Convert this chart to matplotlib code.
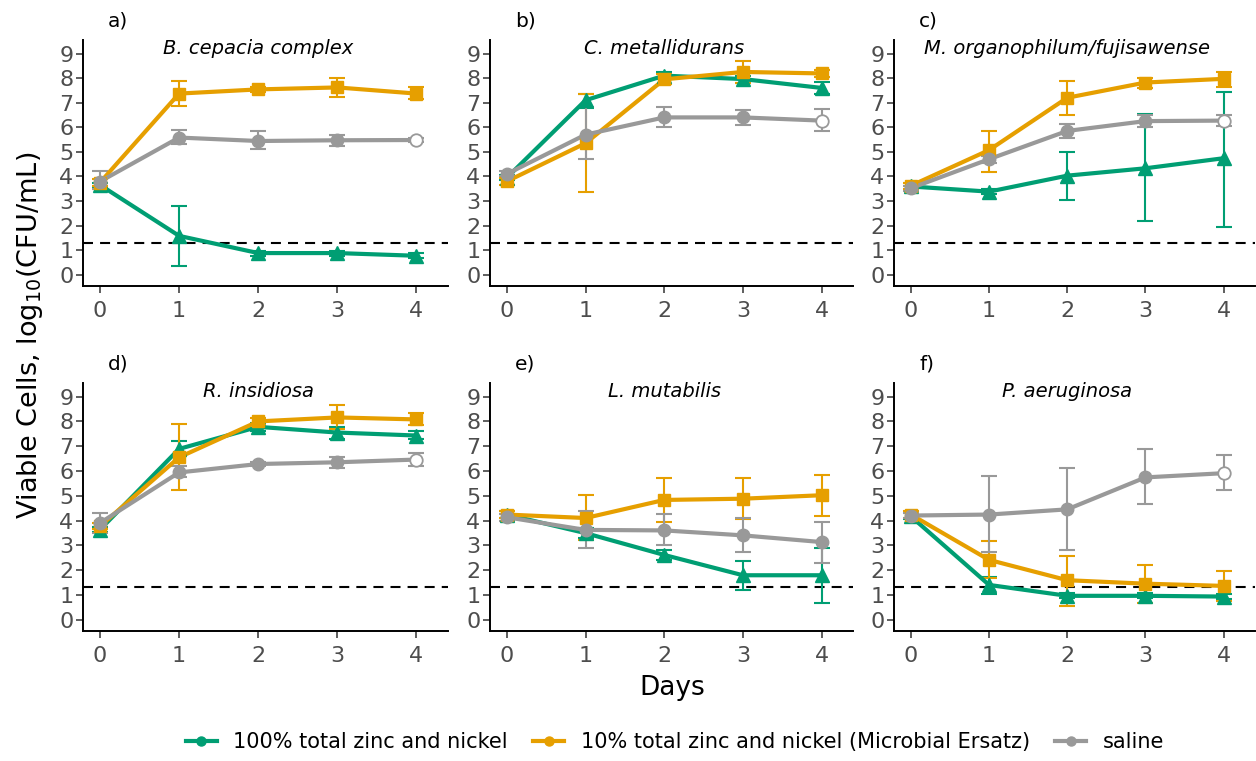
import matplotlib
matplotlib.use("Agg")
import matplotlib.pyplot as plt
from matplotlib.lines import Line2D

plt.rcParams['font.family'] = ['DejaVu Sans']
plt.rcParams['mathtext.fontset'] = 'dejavusans'

days = [0, 1, 2, 3, 4]
panel_labels = ["a)", "b)", "c)", "d)", "e)", "f)"]
titles = ["B. cepacia complex", "C. metallidurans", "M. organophilum/fujisawense",
          "R. insidiosa", "L. mutabilis", "P. aeruginosa"]
series_names = ["100% total zinc and nickel",
                "10% total zinc and nickel (Microbial Ersatz)", "saline"]
lod = 1.3

# means per panel (a..f)
zn100 = [[3.65, 1.58, 0.88, 0.88, 0.77],
         [3.95, 7.10, 8.10, 7.96, 7.60],
         [3.59, 3.38, 4.03, 4.33, 4.74],
         [3.63, 6.89, 7.78, 7.55, 7.43],
         [4.24, 3.49, 2.61, 1.79, 1.79],
         [4.17, 1.40, 0.96, 0.96, 0.93]]
zn100_lo = [[3.55, 0.34, 0.78, 0.78, 0.67],
            [3.85, 6.80, 7.95, 7.80, 7.35],
            [3.45, 3.28, 3.02, 2.17, 1.94],
            [3.53, 6.62, 7.60, 7.30, 7.30],
            [4.10, 3.30, 2.41, 1.18, 0.68],
            [4.05, 1.05, 0.86, 0.86, 0.83]]
zn100_hi = [[3.75, 2.80, 0.98, 0.98, 0.87],
            [4.05, 7.37, 8.25, 8.10, 7.85],
            [3.75, 3.48, 5.01, 6.52, 7.42],
            [3.73, 7.19, 7.95, 7.78, 7.60],
            [4.38, 3.70, 2.81, 2.37, 2.88],
            [4.30, 1.73, 1.06, 1.06, 1.03]]

zn10 = [[3.75, 7.37, 7.54, 7.62, 7.37],
        [3.80, 5.35, 7.95, 8.25, 8.19],
        [3.62, 5.07, 7.20, 7.82, 7.97],
        [3.77, 6.55, 8.00, 8.16, 8.08],
        [4.24, 4.10, 4.83, 4.88, 5.02],
        [4.24, 2.41, 1.59, 1.45, 1.36]]
zn10_lo = [[3.60, 6.86, 7.44, 7.24, 7.14],
           [3.65, 3.38, 7.75, 7.80, 8.05],
           [3.50, 4.19, 6.50, 7.58, 7.62],
           [3.65, 5.22, 7.85, 7.71, 7.84],
           [4.10, 3.22, 3.94, 4.08, 4.20],
           [4.10, 1.66, 0.54, 0.67, 0.75]]
zn10_hi = [[3.90, 7.88, 7.64, 8.00, 7.62],
           [3.95, 7.37, 8.15, 8.69, 8.33],
           [3.75, 5.86, 7.88, 8.02, 8.25],
           [3.90, 7.91, 8.15, 8.66, 8.32],
           [4.38, 5.02, 5.70, 5.70, 5.83],
           [4.38, 3.19, 2.57, 2.20, 1.97]]

saline = [[3.79, 5.58, 5.44, 5.47, 5.48],
          [4.10, 5.70, 6.40, 6.40, 6.27],
          [3.52, 4.70, 5.85, 6.25, 6.27],
          [3.90, 5.94, 6.28, 6.35, 6.46],
          [4.13, 3.62, 3.60, 3.40, 3.13],
          [4.20, 4.24, 4.45, 5.74, 5.91]]
saline_lo = [[3.50, 5.32, 5.10, 5.25, 5.40],
             [4.00, 4.71, 6.02, 6.09, 5.86],
             [3.42, 4.55, 5.55, 6.02, 6.06],
             [3.49, 5.74, 6.18, 6.10, 6.19],
             [4.00, 2.88, 3.02, 2.71, 2.30],
             [4.10, 2.71, 2.81, 4.65, 5.23]]
saline_hi = [[4.20, 5.89, 5.86, 5.68, 5.56],
             [4.20, 6.83, 6.81, 6.70, 6.73],
             [3.62, 4.85, 6.13, 6.50, 6.50],
             [4.31, 6.19, 6.38, 6.55, 6.73],
             [4.26, 4.38, 4.28, 4.11, 3.93],
             [4.30, 5.78, 6.10, 6.89, 6.65]]
saline_open_last = [True, True, True, True, False, True]

green, orange, gray = "#009E73", "#E69F00", "#999999"
tick_gray = "#4D4D4D"

fig = plt.figure(figsize=(12.56, 7.61), dpi=100)
W, H = 1256, 761
cols = [(83, 448), (490, 853), (894, 1255)]
rows = [(40, 286), (383, 631)]

def draw_series(ax, x, y, lo, hi, color, marker, ms, open_last=False):
    yerr = [[yy - l for yy, l in zip(y, lo)], [h - yy for yy, h in zip(y, hi)]]
    ax.errorbar(x, y, yerr=yerr, fmt='none', ecolor=color, elinewidth=1.5,
                capsize=6, capthick=1.5, zorder=2)
    ax.plot(x, y, color=color, lw=3.0, zorder=3, solid_capstyle='round')
    if open_last:
        ax.plot(x[:-1], y[:-1], ls='none', marker=marker, ms=ms, color=color,
                mec=color, zorder=4)
        ax.plot(x[-1:], y[-1:], ls='none', marker=marker, ms=ms, mfc='white',
                mec=color, mew=1.3, zorder=4)
    else:
        ax.plot(x, y, ls='none', marker=marker, ms=ms, color=color, mec=color, zorder=4)

for i in range(6):
    r, c = divmod(i, 3)
    x0, x1 = cols[c]
    y0, y1 = rows[r]
    ax = fig.add_axes([x0 / W, 1 - y1 / H, (x1 - x0) / W, (y1 - y0) / H])
    ax.axhline(lod, color='black', ls=(0, (4.8, 3.4)), lw=1.5, zorder=1)
    draw_series(ax, days, zn100[i], zn100_lo[i], zn100_hi[i], green, '^', 10)
    draw_series(ax, days, zn10[i], zn10_lo[i], zn10_hi[i], orange, 's', 9)
    draw_series(ax, days, saline[i], saline_lo[i], saline_hi[i], gray, 'o', 9,
                open_last=saline_open_last[i])
    ax.set_xlim(-0.215, 4.4)
    ax.set_ylim(-0.46, 9.55)
    ax.set_xticks(days)
    ax.set_yticks(range(10))
    for s in ['top', 'right']:
        ax.spines[s].set_visible(False)
    for s in ['left', 'bottom']:
        ax.spines[s].set_linewidth(1.4)
        ax.spines[s].set_color('black')
    ax.tick_params(axis='both', labelsize=16, labelcolor=tick_gray, color='#333333',
                   length=5, width=1.1)
    ax.tick_params(axis='x', pad=6)
    ax.tick_params(axis='y', pad=2)
    ax.text(2, 9.2, titles[i], ha='center', va='center', fontsize=14,
            style='italic', color='black')
    fig.text((x0 + 25) / W, 1 - (y0 - 19) / H, panel_labels[i], ha='left',
             va='center', fontsize=14.5, color='black')

fig.text(0.535, 1 - 688 / H, "Days", ha='center', va='center', fontsize=19)
fig.text(30 / W, 1 - 335 / H, r"Viable Cells, log$_{10}$(CFU/mL)", rotation=90,
         ha='center', va='center', fontsize=19.5)

handles = [Line2D([0], [0], color=col, lw=3.0, marker='o', ms=6.5)
           for col in (green, orange, gray)]
fig.legend(handles, series_names, loc='center', bbox_to_anchor=(675 / W, 1 - 742 / H),
           ncol=3, frameon=False, prop={'size': 15},
           handlelength=1.5, columnspacing=1.2, handletextpad=0.8)

fig.savefig("out.png", dpi=100)
